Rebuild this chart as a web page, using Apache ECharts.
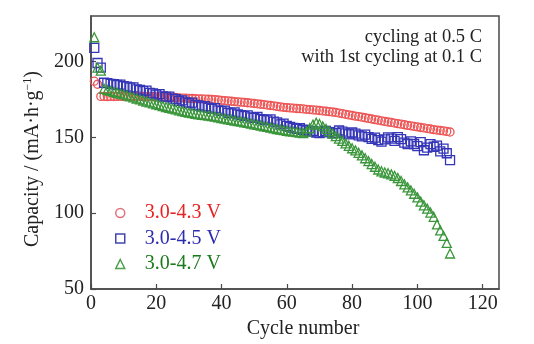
<!DOCTYPE html>
<html>
<head>
<meta charset="utf-8">
<script src="https://cdn.jsdelivr.net/npm/echarts@6/dist/echarts.min.js"></script>
<style>html,body{margin:0;padding:0;background:#fff}#c{width:534px;height:344px}</style>
</head>
<body>
<div id="c"></div>
<script>
const seriesNames = ['3.0-4.3 V', '3.0-4.5 V', '3.0-4.7 V'];
const xTicks = [0, 20, 40, 60, 80, 100, 120];
const yTicks = [50, 100, 150, 200];
const annotation = ['cycling at 0.5 C', 'with 1st cycling at 0.1 C'];

// capacity per cycle (cycle 1..110)
const red = [
  187, 185, 177, 177, 176.8, 177, 176.9, 177, 177.1, 176.9,
  177, 177.1, 177.2, 177, 177.1, 177, 176.9, 176.8, 176.9, 176.7,
  176.6, 176.6, 176.4, 176.3, 176.3, 176.1, 176, 175.9, 175.8, 175.7,
  175.6, 175.5, 175.4, 175.3, 175.2, 175.1, 175, 174.8, 174.6, 174.4,
  174.2, 174, 173.8, 173.6, 173.4, 173.2, 173, 172.8, 172.6, 172.3,
  172.1, 171.8, 171.6, 171.3, 171, 170.8, 170.4, 170.1, 169.8, 169.6,
  169.4, 169.2, 169, 168.9, 168.7, 168.5, 168.3, 168.1, 167.9, 167.7,
  167.4, 167.2, 166.9, 166.7, 166.4, 166, 165.6, 165.2, 164.8, 164.4,
  164, 163.7, 163.3, 162.9, 162.5, 162.1, 161.7, 161.3, 160.9, 160.5,
  160.1, 159.8, 159.4, 159, 158.7, 158.3, 157.9, 157.6, 157.2, 156.9,
  156.5, 156.2, 155.8, 155.5, 155.1, 154.8, 154.5, 154.2, 153.9, 153.5
];
const blue = [
  209, 199, 196, 186, 185.8, 185.3, 185, 184.5, 184.8, 183.8,
  183.5, 182.8, 183, 181.6, 181.2, 180.5, 180.8, 179.3, 179, 178.2,
  178.5, 177, 176.6, 176.9, 175.5, 175.2, 174, 174.4, 173, 172.6,
  172.9, 171.4, 171, 170.2, 170.6, 169.5, 168.8, 169.2, 167.8, 167.3,
  167.6, 166.2, 165.8, 166.5, 165.2, 164.6, 164, 164.5, 163.2, 162.8,
  163.4, 162, 161.6, 161.2, 161.8, 160.3, 159.8, 158.5, 159, 157.6,
  156.9, 156.2, 155.6, 156, 155, 154.5, 153.8, 154.2, 153.2, 152.8,
  153.5, 154.2, 153.4, 152.6, 153, 154.5, 153.8, 152.6, 152, 153.2,
  152.4, 151.3, 150.6, 151.8, 150.2, 149, 149.8, 148.2, 147.2, 148.6,
  150, 149.2, 147.6, 150.2, 148.8, 146.5, 145.6, 147.4, 145.6, 144.2,
  146.8, 141.5, 143.2, 145.5, 143.8, 144.5, 140.8, 142.6, 139.5, 135
];
const green = [
  216, 196, 194, 182, 181.2, 180.6, 180, 179.4, 178.8, 178.3,
  177.6, 177, 176.3, 175.6, 175, 174.3, 173.6, 173, 172.4, 171.8,
  171.2, 170.6, 170, 169.5, 169, 168.4, 167.8, 167.3, 166.8, 166.3,
  165.9, 165.5, 165.2, 164.9, 164.6, 164.3, 164, 163.6, 163.1, 162.7,
  162.3, 161.9, 161.5, 161.1, 160.7, 160.3, 159.9, 159.5, 159.1, 158.6,
  158.2, 157.8, 157.3, 156.9, 156.4, 156, 155.5, 155.1, 154.7, 154.3,
  154, 153.7, 153.4, 153.1, 152.8, 153.8, 156, 158.4, 159.6, 158.8,
  157.2, 155.6, 154, 152.4, 150.8, 149.2, 147.6, 146, 144.4, 142.8,
  141.4, 139.8, 138.1, 136.2, 134.3, 132.4, 130.6, 128.8, 127.6, 126.8,
  126.3, 125.6, 124.6, 123.2, 121.2, 119, 117, 115, 112.8, 110.4,
  107.6, 105.2, 103, 100.4, 97.6, 92.6, 88.6, 85, 80.4, 73.4
];

const FONT = 'Liberation Serif';
const markerColors = ['#ee5555', '#3535b8', '#3a963a'];
const legendIconColors = ['#e0707a', '#4646b0', '#4fa04f'];
const textColors = ['#e82222', '#2c2cae', '#1c7a1c'];
const symbols = ['circle', 'rect', 'triangle'];
const sizes = [8, 9, 9];
const values = [red, blue, green];

const chart = echarts.init(document.getElementById('c'), null, {renderer: 'canvas'});
chart.setOption({
  animation: false,
  backgroundColor: '#fff',
  grid: {left: 91, top: 16, right: 35, bottom: 53, show: true, borderColor: '#4a4a4a', borderWidth: 1.5, backgroundColor: 'transparent'},
  xAxis: {
    type: 'value', min: 0, max: 125, interval: 20,
    name: 'Cycle number', nameLocation: 'middle', nameGap: 30,
    nameTextStyle: {fontFamily: FONT, fontSize: 20, color: '#222', padding: [0, 0, 0, 16]},
    axisLine: {show: true, lineStyle: {color: '#4a4a4a', width: 1.5}},
    axisTick: {show: true, inside: true, length: 5, lineStyle: {color: '#4a4a4a', width: 1.2}},
    axisLabel: {fontFamily: FONT, fontSize: 20, color: '#222', margin: 5, showMaxLabel: false,
      formatter: v => xTicks.includes(v) ? String(v) : ''},
    splitLine: {show: false}
  },
  yAxis: {
    type: 'value', min: 50, max: 230, interval: 50,
    name: '{a|Capacity / (mA·h·g}{s|−1}{a|)}', nameLocation: 'middle', nameGap: 45,
    nameTextStyle: {color: '#222', padding: [0, 13, 0, 0],
      rich: {a: {fontFamily: FONT, fontSize: 20, color: '#222'}, s: {fontFamily: FONT, fontSize: 12, color: '#222', padding: [0, 0, 10, 0]}}},
    axisLine: {show: true, lineStyle: {color: '#4a4a4a', width: 1.5}},
    axisTick: {show: true, inside: true, length: 5, lineStyle: {color: '#4a4a4a', width: 1.2}},
    axisLabel: {fontFamily: FONT, fontSize: 20, color: '#222', margin: 7, showMaxLabel: false,
      formatter: v => yTicks.includes(v) ? String(v) : ''},
    splitLine: {show: false}
  },
  legend: {
    orient: 'vertical', left: 110, top: 198, itemWidth: 9, itemHeight: 9, itemGap: 5.5,
    textStyle: {fontFamily: FONT, fontSize: 20, padding: [0, 0, 0, 15]},
    data: seriesNames.map((n, i) => ({
      name: n, icon: symbols[i],
      itemStyle: {color: 'transparent', borderColor: legendIconColors[i], borderWidth: 1.5},
      textStyle: {color: textColors[i]}
    }))
  },
  graphic: annotation.map((t, i) => ({
    type: 'text', right: 534 - 482, top: 28 + i * 20,
    style: {text: t, font: '18.5px "Liberation Serif"', fill: '#222', textAlign: 'right'}
  })),
  series: seriesNames.map((n, i) => ({
    name: n, type: 'scatter', symbol: symbols[i], symbolSize: sizes[i],
    itemStyle: {color: 'transparent', borderColor: markerColors[i], borderWidth: 1.3, opacity: 1},
    data: values[i].map((v, k) => [k + 1, v])
  }))
});
</script>
</body>
</html>
